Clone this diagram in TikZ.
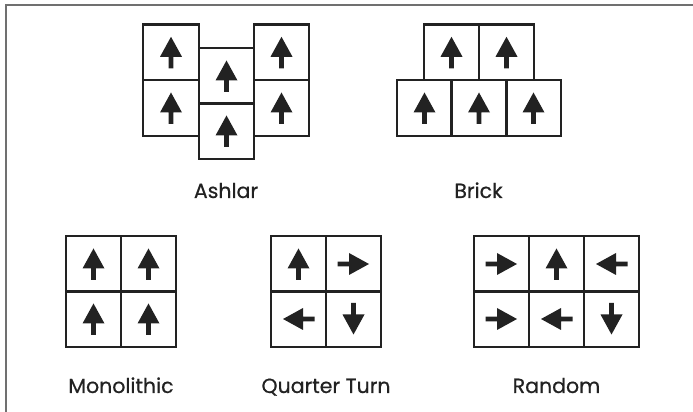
\documentclass[tikz,border=0pt]{standalone}
\usepackage{fontspec}
\setmainfont{Poppins}[FakeBold=0.6]
\usetikzlibrary{positioning}
\definecolor{ink}{RGB}{34,34,34}
\definecolor{framegray}{RGB}{112,112,112}
\tikzset{
 tile/.style={draw=ink,line width=2.4pt,minimum size=55.5pt,inner sep=0pt},
 caption/.style={anchor=base,text=ink,font=\fontsize{20.5}{24}\selectfont},
 tilearrow/.pic={\fill[ink](0,15.5)--(11,-4.5)--(2.4,-4.5)--(2.4,-16)--(-2.4,-16)--(-2.4,-4.5)--(-11,-4.5)--cycle;}
}
\begin{document}
\begin{tikzpicture}[x=1pt,y=1pt]
\useasboundingbox (0,0) rectangle (693,412);
\draw[framegray,line width=2pt](5.5,-10)rectangle(705,406.5);
% Ashlar
\foreach \n/\x/\y in {1/171/359.7,2/171/304,3/226.5/336,4/226.5/281,5/281.5/359.7,6/281.5/304}{
 \node[tile](ash\n)at(\x,\y){};
 \pic at(ash\n){tilearrow};}
\node[caption](ashlar)at(226,214){Ashlar};
% Brick
\foreach \n/\x/\y in {1/451.5/359.7,2/506.5/359.7,3/424.5/304,4/479/304,5/533.5/304}{
 \node[tile](brk\n)at(\x,\y){};
 \pic at(brk\n){tilearrow};}
\node[caption](brick)at(478.5,214){Brick};
% Monolithic
\foreach \n/\x/\y in {1/93.5/148,2/148.5/148,3/93.5/93,4/148.5/93}{
 \node[tile](mono\n)at(\x,\y){};
 \pic at(mono\n){tilearrow};}
\node[caption](monolithic)at(121,19){Monolithic};
% Quarter Turn
\foreach \n/\x/\y/\r in {1/298.5/148/0,2/353.5/148/-90,3/298.5/93/90,4/353.5/93/180}{
 \node[tile](qt\n)at(\x,\y){};
 \pic[rotate=\r] at(qt\n){tilearrow};}
\node[caption](quarter)at(326,19){Quarter Turn};
% Random
\foreach \n/\x/\y/\r in {1/501.5/148/-90,2/556.5/148/0,3/611.5/148/90,4/501.5/93/-90,5/556.5/93/90,6/611.5/93/180}{
 \node[tile](rnd\n)at(\x,\y){};
 \pic[rotate=\r] at(rnd\n){tilearrow};}
\node[caption](random)at(556.5,19){Random};
\end{tikzpicture}
\end{document}
